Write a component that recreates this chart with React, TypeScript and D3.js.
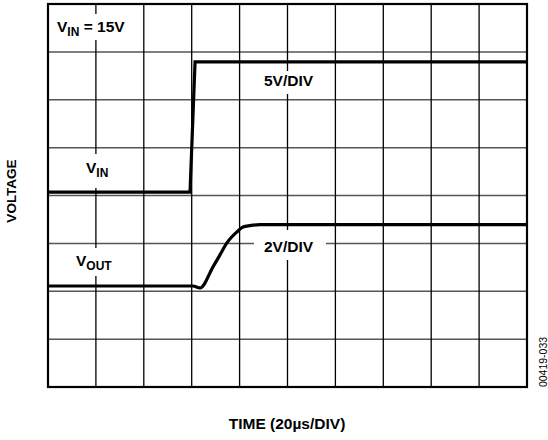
import React from "react";
import * as d3 from "d3";

// time axis in microseconds (20 µs/div, 10 divisions); vertical axis in screen divisions (8 divisions)
const timeTicks = [0, 20, 40, 60, 80, 100, 120, 140, 160, 180, 200];
const divTicks = [0, 1, 2, 3, 4, 5, 6, 7, 8];

// VIN trace (5 V/div), [time µs, divisions]
const vinTime = [0, 59.3, 61.4, 200];
const vinDiv = [4.07, 4.07, 6.79, 6.79];

// VOUT trace (2 V/div), [time µs, divisions]
const voutTime = [0, 60.5, 63.5, 68.9, 71.8, 74.7, 78.9, 81.4, 84.3, 88.5, 101, 200];
const voutDiv = [2.11, 2.11, 2.07, 2.51, 2.76, 3.01, 3.24, 3.34, 3.37, 3.39, 3.39, 3.39];

const W = 548;
const H = 440;
const L = 48, R = 527, T = 4, B = 387;
const FONT = "'Liberation Sans', Arial, Helvetica, sans-serif";

export default function App() {
  const x = d3.scaleLinear().domain([0, 200]).range([L, R]);
  const y = d3.scaleLinear().domain([0, 8]).range([B, T]);

  const line = d3
    .line<[number, number]>()
    .x((d) => x(d[0]))
    .y((d) => y(d[1]));
  const curve = d3
    .line<[number, number]>()
    .x((d) => x(d[0]))
    .y((d) => y(d[1]))
    .curve(d3.curveMonotoneX);

  const vin: [number, number][] = vinTime.map((t, i) => [t, vinDiv[i]]);
  const vout: [number, number][] = voutTime.map((t, i) => [t, voutDiv[i]]);

  const labelBoxes = [
    { x: 52, y: 14, w: 82, h: 26 },
    { x: 80, y: 154, w: 38, h: 34 },
    { x: 70, y: 248, w: 56, h: 28 },
    { x: 254, y: 71, w: 72, h: 23 },
    { x: 254, y: 230, w: 72, h: 30 },
  ];

  return (
    <svg
      width={W}
      height={H}
      style={{ position: "absolute", left: 0, top: 0, background: "#fff" }}
      fontFamily={FONT}
    >
      <rect x={0} y={0} width={W} height={H} fill="#fff" />
      {/* horizontal grid */}
      {divTicks.slice(1, -1).map((d) => (
        <line key={"h" + d} x1={L} x2={R} y1={y(d)} y2={y(d)} stroke="#555" strokeWidth={1.5} />
      ))}
      {/* vertical grid */}
      {timeTicks.slice(1, -1).map((t) => (
        <line key={"v" + t} x1={x(t)} x2={x(t)} y1={T} y2={B} stroke="#000" strokeWidth={1.3} />
      ))}
      {/* label backgrounds */}
      {labelBoxes.map((b, i) => (
        <rect key={"b" + i} x={b.x} y={b.y} width={b.w} height={b.h} fill="#fff" />
      ))}
      {/* traces */}
      <path d={line(vin) || ""} fill="none" stroke="#000" strokeWidth={3.2} strokeLinejoin="miter" />
      <path d={curve(vout) || ""} fill="none" stroke="#000" strokeWidth={3.2} strokeLinejoin="round" />
      {/* frame */}
      <rect x={L} y={T} width={R - L} height={B - T} fill="none" stroke="#000" strokeWidth={2.2} />

      {/* labels */}
      <text x={57} y={32} fontSize={15.5} fontWeight="bold" fill="#000">
        V<tspan fontSize={12} dy={3.5}>IN</tspan>
        <tspan dy={-3.5}> = 15V</tspan>
      </text>
      <text x={86} y={173} fontSize={15.5} fontWeight="bold" fill="#000">
        V<tspan fontSize={12} dy={3.5}>IN</tspan>
      </text>
      <text x={76} y={266} fontSize={15.5} fontWeight="bold" fill="#000">
        V<tspan fontSize={12} dy={3.5}>OUT</tspan>
      </text>
      <text x={264} y={86} fontSize={15.5} fontWeight="bold" fill="#000">
        5V/DIV
      </text>
      <text x={264} y={252} fontSize={15.5} fontWeight="bold" fill="#000">
        2V/DIV
      </text>

      <text
        transform={`translate(16,191) rotate(-90)`}
        textAnchor="middle"
        fontSize={13.5}
        fontWeight="bold"
        fill="#000"
      >
        VOLTAGE
      </text>
      <text x={287} y={429} textAnchor="middle" fontSize={15.5} fontWeight="bold" fill="#000">
        TIME (20µs/DIV)
      </text>
      <text
        transform={`translate(547,362) rotate(-90)`}
        textAnchor="middle"
        fontSize={10.5}
        fill="#000"
      >
        00419-033
      </text>
    </svg>
  );
}
